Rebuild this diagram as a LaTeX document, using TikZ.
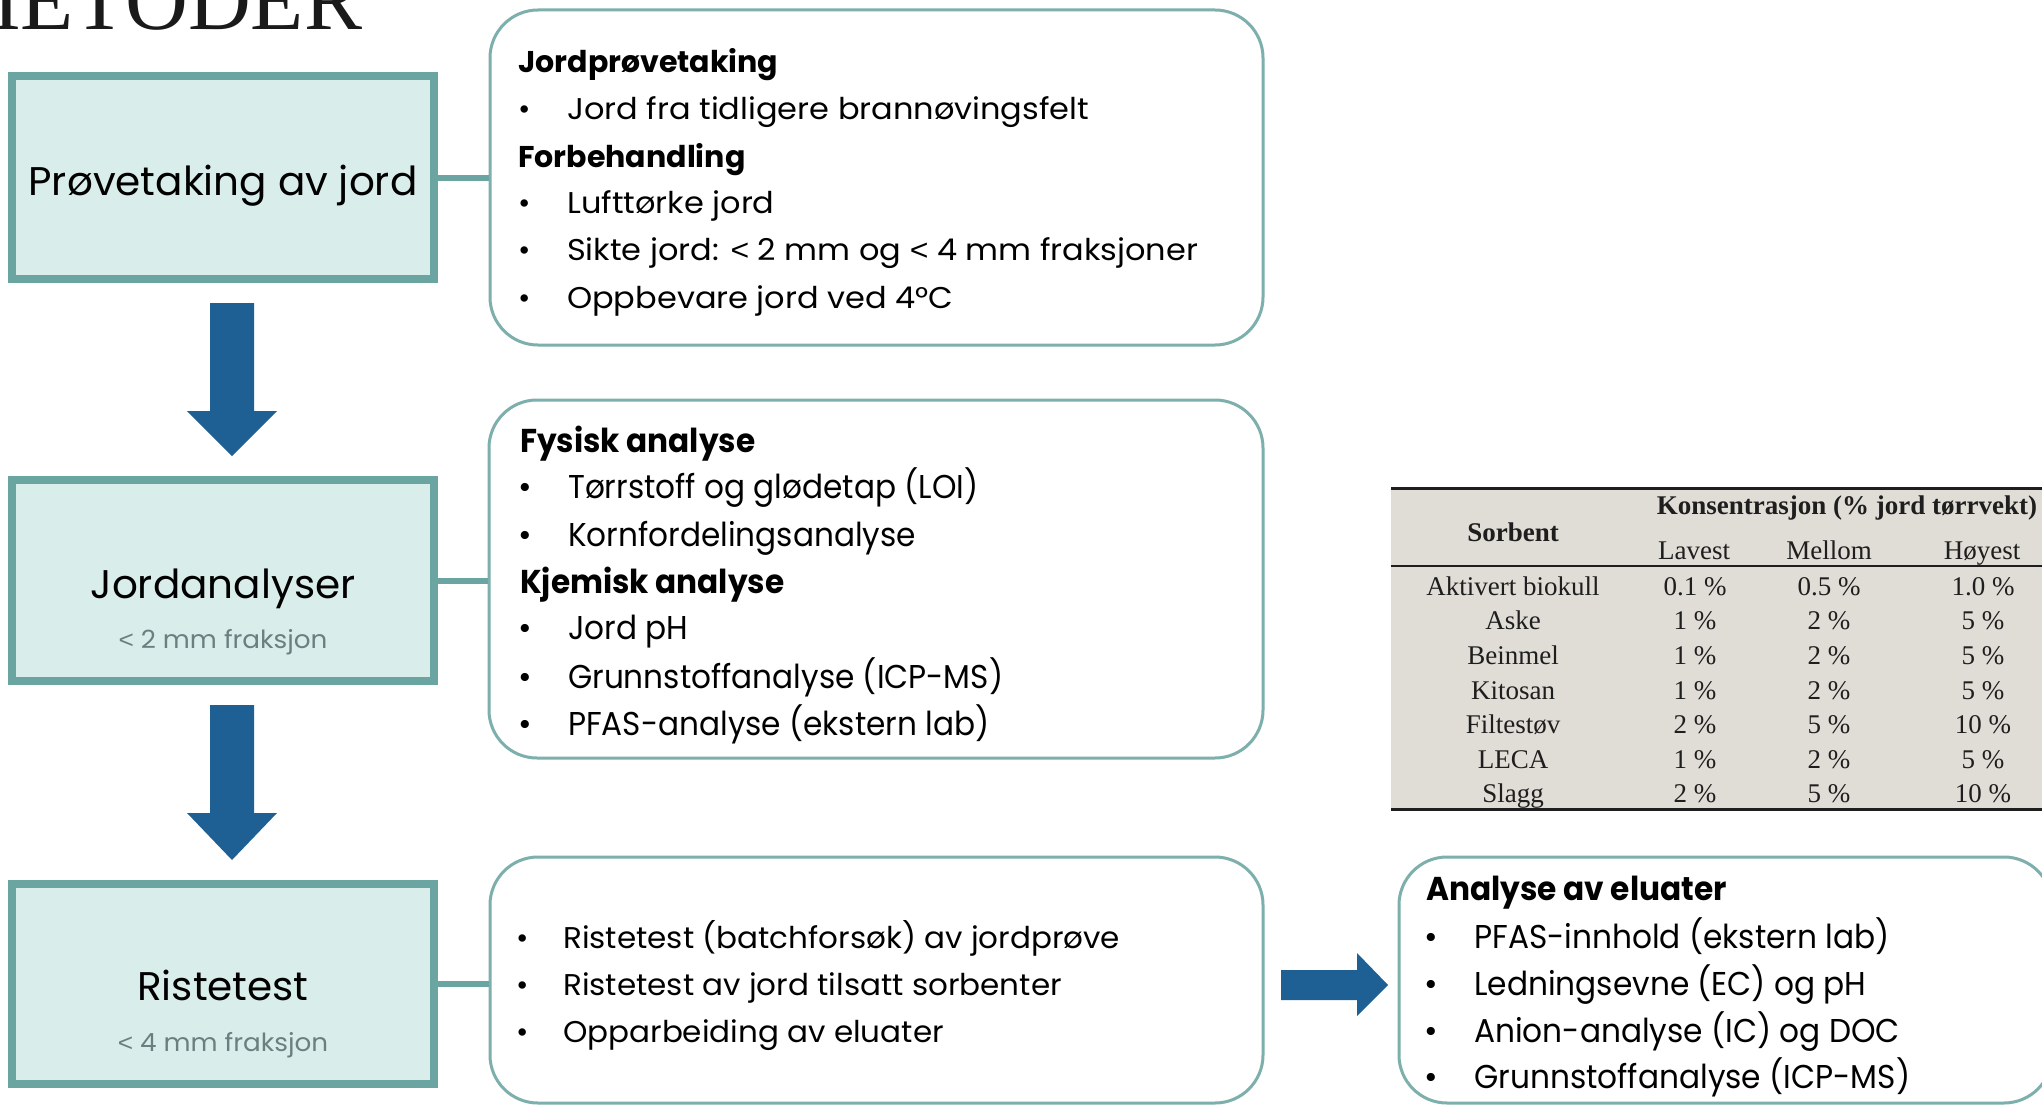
\documentclass[tikz,border=0pt]{standalone}
\usepackage{fontspec}
\setmainfont{Poppins}
\newfontfamily\tabfont{Liberation Serif}
\newfontfamily\ltfont{Liberation Sans}
\usepackage{graphicx}
\definecolor{lborder}{RGB}{106,165,162}
\definecolor{lfill}{RGB}{217,238,234}
\definecolor{rborder}{RGB}{125,175,172}
\definecolor{arrowblue}{RGB}{30,96,148}
\definecolor{subgray}{RGB}{107,127,128}
\definecolor{tabbg}{RGB}{224,220,214}
\definecolor{tabtext}{RGB}{30,30,30}
\definecolor{titlecol}{RGB}{26,26,26}
\newlength\mw
\newcommand\calcscale[3]{\settowidth\mw{#2}\pgfmathsetmacro#3{#1/\mw}}
\newcommand\lsign{{\ltfont<}}
\newcommand\fA{\fontsize{30}{36}\selectfont}
\newcommand\fB{\fontsize{33}{40}\selectfont}
\newcommand\fL{\fontsize{40}{48}\selectfont}
\newcommand\fS{\fontsize{25}{30}\selectfont}
\newcommand\fT{\tabfont\fontsize{27}{32}\selectfont}
\begin{document}
\calcscale{522}{\fA Jord fra tidligere brannøvingsfelt}{\sA}%
\calcscale{435}{\fB Grunnstoffanalyse (ICP-MS)}{\sB}%
\calcscale{557}{\fA Ristetest (batchforsøk) av jordprøve}{\sC}%
\calcscale{436}{\fB Grunnstoffanalyse (ICP-MS)}{\sD}%
\calcscale{389}{\fL Prøvetaking av jord}{\sL}%
\calcscale{209}{\fS \lsign\ 2 mm fraksjon}{\sS}%
\begin{tikzpicture}[x=1pt,y=-1pt,
  lbox/.style={draw=lborder, fill=lfill, line width=8pt, minimum width=422pt, inner sep=0pt},
  rbox/.style={draw=rborder, fill=white, line width=3pt, rounded corners=48pt, inner sep=0pt},
  conn/.style={draw=lborder, line width=6pt},
  barrow/.style={fill=arrowblue},
  txt/.style={anchor=base west, inner sep=0pt, text=black},
  ctr/.style={anchor=base, inner sep=0pt, text=black},
  subl/.style={anchor=base, inner sep=0pt, text=subgray},
  bul/.style={anchor=base, inner sep=0pt, text=black},
  tcell/.style={anchor=base, inner sep=0pt, font=\fT, text=tabtext},
  trule/.style={draw=tabtext}]
\clip (0,0) rectangle (2042,1105);
\fill[white] (0,0) rectangle (2042,1105);

% title
\node[anchor=base west, inner sep=0pt, text=titlecol, font=\tabfont\fontsize{87}{90}\selectfont] (title) at (-57,30) {METODER};

% left boxes
\node[lbox, minimum height=203pt] (L1) at (223,177.5) {};
\node[lbox, minimum height=201pt] (L2) at (223,580.5) {};
\node[lbox, minimum height=200pt] (L3) at (223,984) {};

% right boxes
\node[rbox, minimum width=773pt, minimum height=335pt] (A) at (876.5,177.5) {};
\node[rbox, minimum width=774pt, minimum height=358pt] (B) at (876,579) {};
\node[rbox, minimum width=773pt, minimum height=246pt] (C) at (876.5,980) {};
\node[rbox, minimum width=653pt, minimum height=246pt] (D) at (1725.5,980) {};

% connectors
\draw[conn] (L1.east) -- (L1.east -| A.west);
\draw[conn] (L2.east) -- (L2.east -| B.west);
\draw[conn] (L3.east) -- (L3.east -| C.west);

% block arrows
\fill[barrow] (210,303) -- (254,303) -- (254,411) -- (277,411) -- (232,456) -- (187,411) -- (210,411) -- cycle;
\fill[barrow] (210,705) -- (254,705) -- (254,813) -- (277,813) -- (232,860) -- (187,813) -- (210,813) -- cycle;
\fill[barrow] (1281,970) -- (1357,970) -- (1357,953) -- (1388,985) -- (1357,1016) -- (1357,1000) -- (1281,1000) -- cycle;

% left labels
\node[ctr] (t1) at (223,195) {\scalebox{\sL}[1]{\fL Prøvetaking av jord}};
\node[ctr] (t2) at (223,598) {\scalebox{\sL}[1]{\fL Jordanalyser}};
\node[subl] (t2s) at (223,648) {\scalebox{\sS}[1]{\fS \lsign\ 2 mm fraksjon}};
\node[ctr] (t3) at (223,1000) {\scalebox{\sL}[1]{\fL Ristetest}};
\node[subl] (t3s) at (223,1051) {\scalebox{\sS}[1]{\fS \lsign\ 4 mm fraksjon}};

% box A
\node[txt] (a0) at (518,73) {\scalebox{0.94}[1]{\scalebox{\sA}[1]{\fA\bfseries Jordprøvetaking}}};
\node[bul] (ab1) at (525,120) {\fA •};
\node[txt] (a1) at (567,120) {\scalebox{\sA}[1]{\fA Jord fra tidligere brannøvingsfelt}};
\node[txt] (a2) at (518,167) {\scalebox{0.94}[1]{\scalebox{\sA}[1]{\fA\bfseries Forbehandling}}};
\node[bul] (ab3) at (525,213) {\fA •};
\node[txt] (a3) at (567,213) {\scalebox{\sA}[1]{\fA Lufttørke jord}};
\node[bul] (ab4) at (525,260) {\fA •};
\node[txt] (a4) at (567,260) {\scalebox{\sA}[1]{\fA Sikte jord: \lsign\ 2 mm og \lsign\ 4 mm fraksjoner}};
\node[bul] (ab5) at (525,308) {\fA •};
\node[txt] (a5) at (567,308) {\scalebox{\sA}[1]{\fA Oppbevare jord ved 4°C}};

% box B
\node[txt] (b0) at (520,452) {\scalebox{\sB}[1]{\fB\bfseries Fysisk analyse}};
\node[bul] (bb1) at (525,498) {\fB •};
\node[txt] (b1) at (568,498) {\scalebox{\sB}[1]{\fB Tørrstoff og glødetap (LOI)}};
\node[bul] (bb2) at (525,546) {\fB •};
\node[txt] (b2) at (568,546) {\scalebox{\sB}[1]{\fB Kornfordelingsanalyse}};
\node[txt] (b3) at (520,593) {\scalebox{\sB}[1]{\fB\bfseries Kjemisk analyse}};
\node[bul] (bb4) at (525,639) {\fB •};
\node[txt] (b4) at (568,639) {\scalebox{\sB}[1]{\fB Jord pH}};
\node[bul] (bb5) at (525,688) {\fB •};
\node[txt] (b5) at (568,688) {\scalebox{\sB}[1]{\fB Grunnstoffanalyse (ICP-MS)}};
\node[bul] (bb6) at (525,735) {\fB •};
\node[txt] (b6) at (568,735) {\scalebox{\sB}[1]{\fB PFAS-analyse (ekstern lab)}};

% box C
\node[bul] (cb1) at (523,948) {\fA •};
\node[txt] (c1) at (563,948) {\scalebox{\sC}[1]{\fA Ristetest (batchforsøk) av jordprøve}};
\node[bul] (cb2) at (523,995) {\fA •};
\node[txt] (c2) at (563,995) {\scalebox{\sC}[1]{\fA Ristetest av jord tilsatt sorbenter}};
\node[bul] (cb3) at (523,1042) {\fA •};
\node[txt] (c3) at (563,1042) {\scalebox{\sC}[1]{\fA Opparbeiding av eluater}};

% box D
\node[txt] (d0) at (1426,900) {\scalebox{\sD}[1]{\fB\bfseries Analyse av eluater}};
\node[bul] (db1) at (1431,948) {\fB •};
\node[txt] (d1) at (1474,948) {\scalebox{\sD}[1]{\fB PFAS-innhold (ekstern lab)}};
\node[bul] (db2) at (1431,995) {\fB •};
\node[txt] (d2) at (1474,995) {\scalebox{\sD}[1]{\fB Ledningsevne (EC) og pH}};
\node[bul] (db3) at (1431,1042) {\fB •};
\node[txt] (d3) at (1474,1042) {\scalebox{\sD}[1]{\fB Anion-analyse (IC) og DOC}};
\node[bul] (db4) at (1431,1088) {\fB •};
\node[txt] (d4) at (1474,1088) {\scalebox{\sD}[1]{\fB Grunnstoffanalyse (ICP-MS)}};

% table
\fill[tabbg] (1391,488) rectangle (2050,809);
\draw[trule, line width=3pt] (1391,488) -- (2050,488);
\draw[trule, line width=2.5pt] (1391,566) -- (2050,566);
\draw[trule, line width=3pt] (1391,809) -- (2050,809);
\node[tcell] (hsorb) at (1513,541) {\bfseries Sorbent};
\node[tcell] (hkons) at (1847,514) {\bfseries Konsentrasjon (\% jord tørrvekt)};
\node[tcell] (hlav) at (1694,559) {Lavest};
\node[tcell] (hmel) at (1829,559) {Mellom};
\node[tcell] (hhoy) at (1982,559) {Høyest};
\foreach \nm/\va/\vb/\vc/\yy [count=\i] in {Aktivert biokull/0.1/0.5/1.0/595, Aske/1/2/5/629, Beinmel/1/2/5/664, Kitosan/1/2/5/699, Filtestøv/2/5/10/733, LECA/1/2/5/768, Slagg/2/5/10/802} {
  \node[tcell] (s\i) at (1513,\yy) {\nm};
  \node[tcell] (lo\i) at (1695,\yy) {\va{} \%};
  \node[tcell] (me\i) at (1829,\yy) {\vb{} \%};
  \node[tcell] (hi\i) at (1983,\yy) {\vc{} \%};
}
\end{tikzpicture}
\end{document}
